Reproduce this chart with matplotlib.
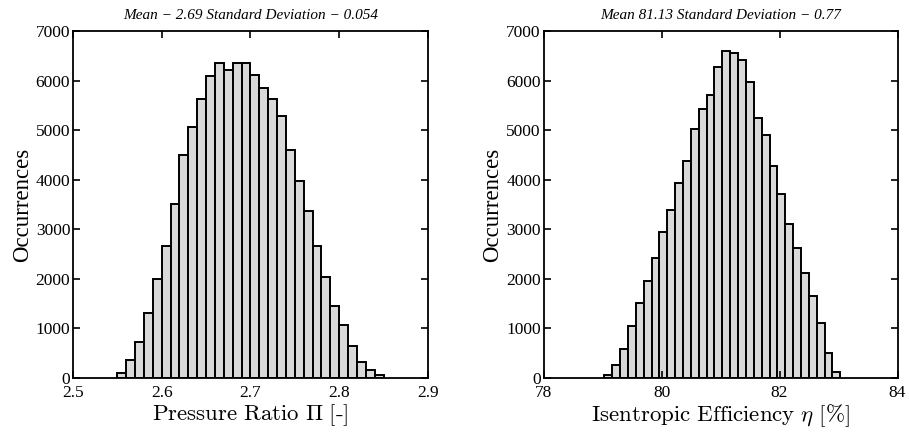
import numpy as np
import matplotlib
matplotlib.use("Agg")
import matplotlib.pyplot as plt

# histogram data (30 bins each)
pr_edges = np.linspace(2.55, 2.85, 31)
pr_counts = [90, 350, 713, 1313, 2000, 2668, 3509, 4493, 5073, 5639,
             6089, 6358, 6225, 6358, 6358, 6124, 5861, 5631, 5281, 4594,
             3967, 3367, 2660, 2027, 1441, 1057, 639, 323, 162, 46]

eff_edges = np.linspace(79.03, 83.03, 31)
eff_counts = [60, 261, 569, 1050, 1505, 1953, 2415, 2944, 3385, 3940,
              4369, 5018, 5426, 5720, 6269, 6603, 6556, 6422, 5967, 5245,
              4897, 4282, 3706, 3104, 2622, 2107, 1646, 1104, 502, 107]

pr_title = "Mean \u2212 2.69 Standard Deviation \u2212 0.054"
eff_title = "Mean 81.13 Standard Deviation \u2212 0.77"
pr_label = r"$\mathrm{Pressure\ Ratio}\ \Pi\ [\text{-}]$"
eff_label = r"$\mathrm{Isentropic\ Efficiency}\ \eta\ [\%]$"

plt.rcParams['font.family'] = ['Liberation Serif', 'DejaVu Serif']
plt.rcParams['mathtext.fontset'] = 'cm'
plt.rcParams['axes.unicode_minus'] = True

fig = plt.figure(figsize=(9.09, 4.34), dpi=100)
ax1 = fig.add_axes([0.0803, 0.130, 0.3905, 0.798])
ax2 = fig.add_axes([0.598, 0.130, 0.3894, 0.798])


def draw(ax, edges, counts, xlim, xticks, title, xlabel):
    centers = (edges[:-1] + edges[1:]) / 2
    ax.hist(centers, bins=edges, weights=counts, color='#d9d9d9',
            edgecolor='black', linewidth=1.4)
    ax.set_xlim(*xlim)
    ax.set_ylim(0, 7000)
    ax.set_xticks(xticks)
    ax.set_yticks(np.arange(0, 7001, 1000))
    ax.tick_params(direction='in', top=True, right=True, labelsize=12.5,
                   length=5, width=1.2)
    ax.tick_params(axis='x', pad=5)
    ax.tick_params(axis='y', pad=2)
    for s in ax.spines.values():
        s.set_linewidth(1.3)
    ax.set_title(title, fontsize=11, style='italic', pad=9)
    ax.set_xlabel(xlabel, fontsize=16.5, labelpad=1)
    ax.set_ylabel('Occurrences', fontsize=16.5, labelpad=2)


draw(ax1, pr_edges, pr_counts, (2.5, 2.9), [2.5, 2.6, 2.7, 2.8, 2.9],
     pr_title, pr_label)
draw(ax2, eff_edges, eff_counts, (78, 84), [78, 80, 82, 84],
     eff_title, eff_label)

fig.savefig('out.png', dpi=100)
